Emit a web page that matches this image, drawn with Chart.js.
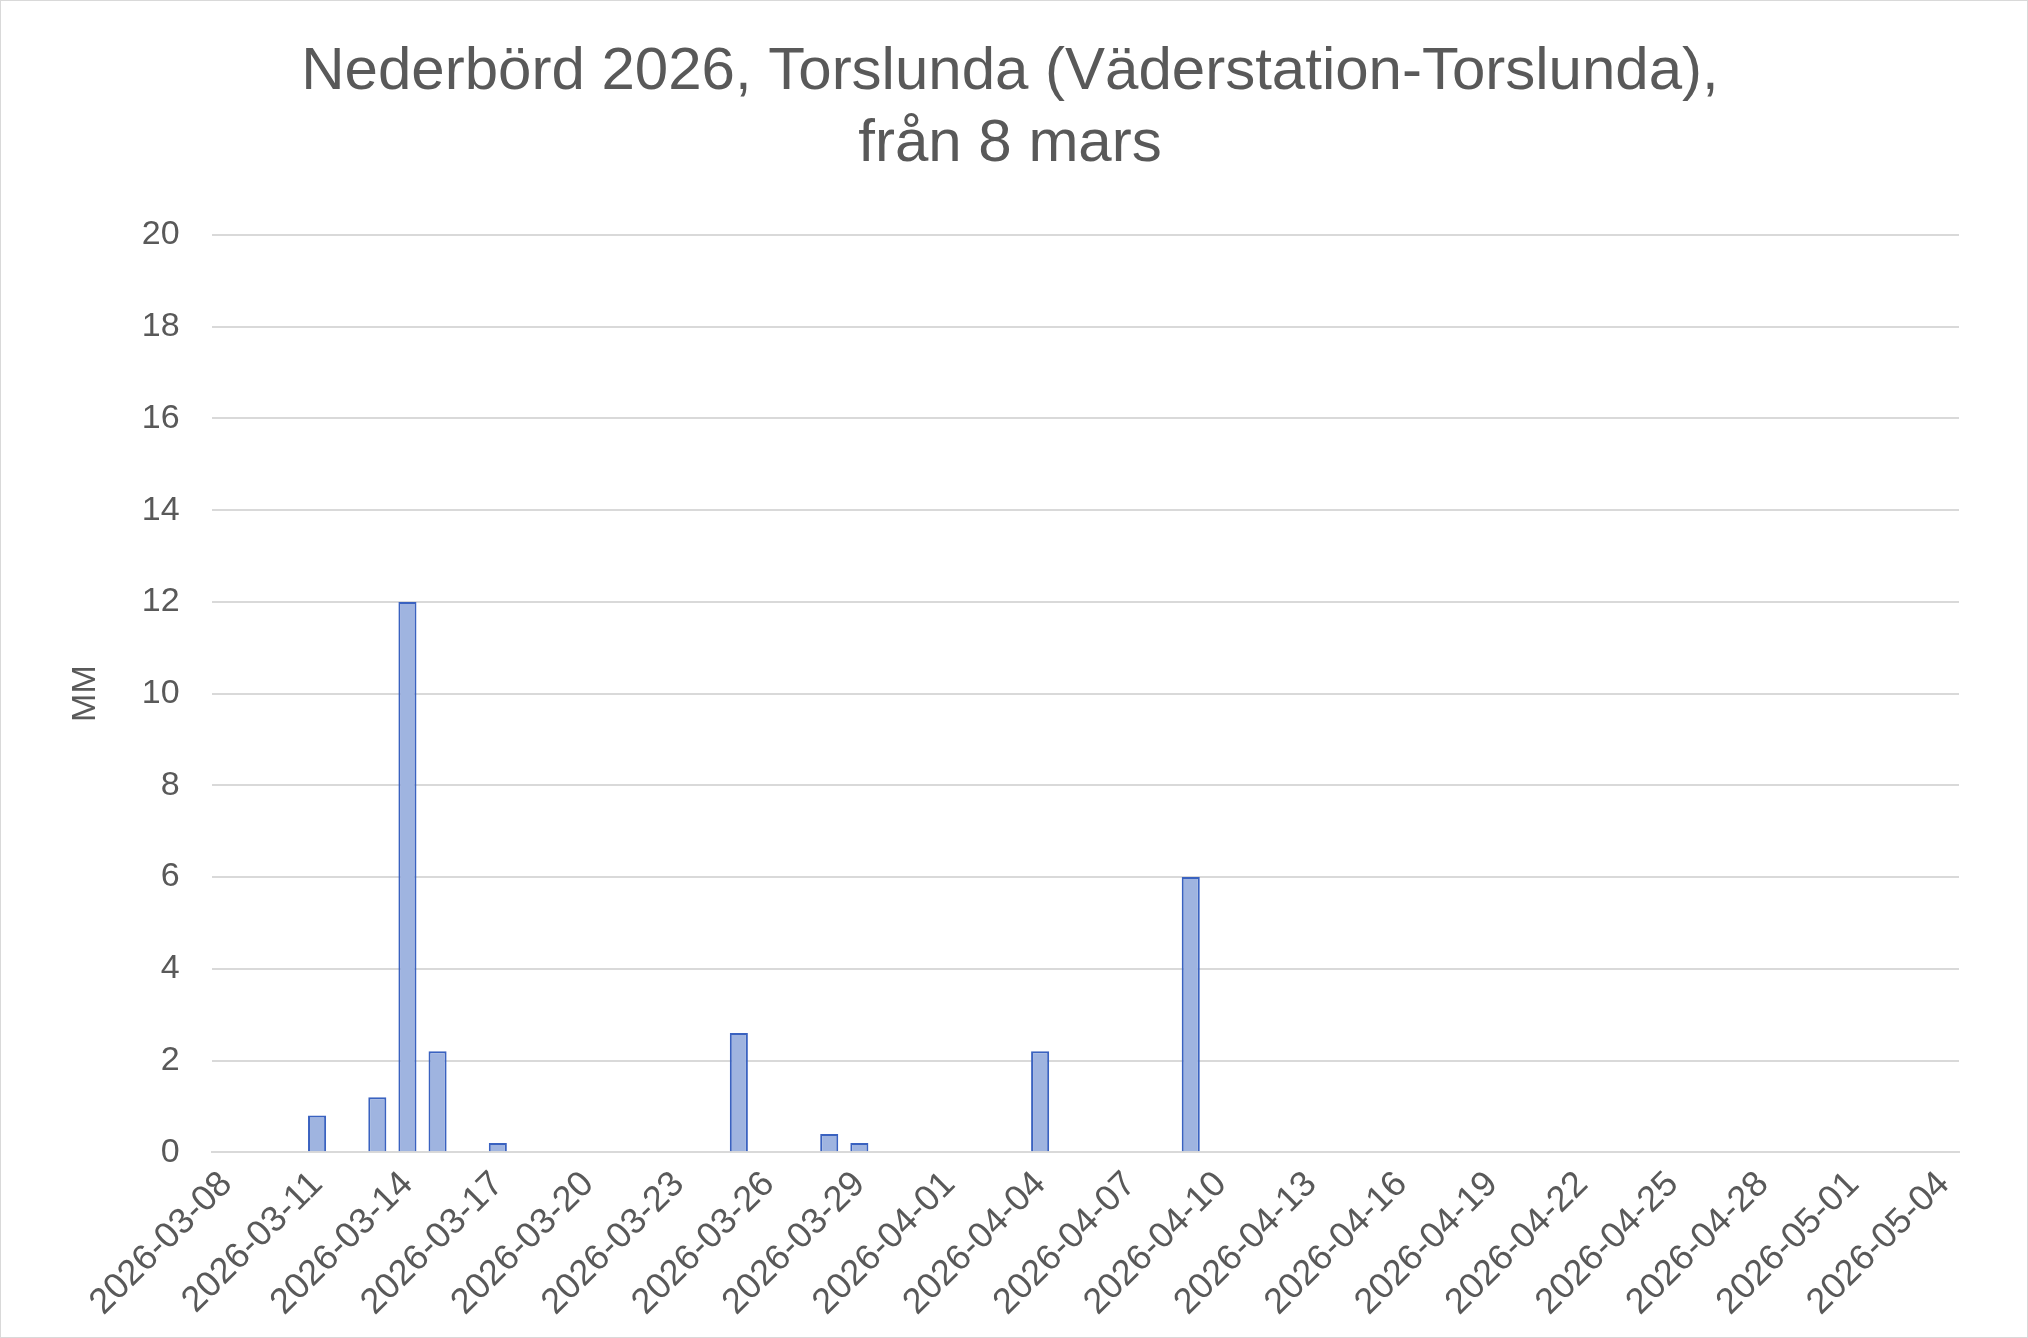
<!DOCTYPE html>
<html>
<head>
<meta charset="utf-8">
<script src="https://cdn.jsdelivr.net/npm/chart.js@4"></script>
<style>
  html, body { margin: 0; padding: 0; background: #fff; }
  #wrap { width: 2026px; height: 1336px; border: 1px solid #d9d9d9; }
</style>
</head>
<body>
<div id="wrap"><canvas id="c" width="2026" height="1336"></canvas></div>
<script>
// dagar 2026-03-08 .. 2026-05-04
const antalDagar = 58;
const dagar = [];
for (let i = 0; i < antalDagar; i++) {
  const d = new Date(Date.UTC(2026, 2, 8 + i));
  dagar.push(d.toISOString().slice(0, 10));
}
const regnDagar = ["2026-03-11","2026-03-13","2026-03-14","2026-03-15","2026-03-17","2026-03-25","2026-03-28","2026-03-29","2026-04-04","2026-04-09"];
const regnMM    = [0.8, 1.2, 12, 2.2, 0.2, 2.6, 0.4, 0.2, 2.2, 6];
const varden = dagar.map(d => { const i = regnDagar.indexOf(d); return i >= 0 ? regnMM[i] : null; });

const typsnitt = "Liberation Sans, Arial";

new Chart(document.getElementById("c"), {
  type: "bar",
  data: {
    labels: dagar,
    datasets: [{
      data: varden,
      backgroundColor: "#9fb4e0",
      borderColor: "#3a62c0",
      borderWidth: 2,
      categoryPercentage: 1,
      barPercentage: 0.6
    }]
  },
  options: {
    responsive: false,
    animation: false,
    layout: { padding: { left: 60, right: 68, top: 25, bottom: 10 } },
    plugins: {
      legend: { display: false },
      tooltip: { enabled: false },
      title: {
        display: true,
        text: ["Nederbörd 2026, Torslunda (Väderstation-Torslunda),", "från 8 mars"],
        color: "#595959",
        font: { family: typsnitt, size: 60, weight: "normal" },
        padding: { top: 10, bottom: 55 },
        lineHeight: 1.25
      }
    },
    scales: {
      x: {
        grid: { display: false },
        border: { color: "#d9d9d9", width: 2 },
        ticks: {
          color: "#595959",
          font: { family: typsnitt, size: 36 },
          autoSkip: false,
          maxRotation: 45, minRotation: 45,
          callback: function (v, i) { return i % 3 === 0 ? this.getLabelForValue(v) : ""; }
        }
      },
      y: {
        min: 0, max: 20,
        ticks: { stepSize: 2, color: "#595959", font: { family: typsnitt, size: 34 }, padding: 32 },
        grid: { color: "#d9d9d9", lineWidth: 2, drawTicks: false },
        border: { display: false },
        title: { display: true, text: "MM", color: "#595959", font: { family: typsnitt, size: 34 } }
      }
    }
  }
});
</script>
</body>
</html>
